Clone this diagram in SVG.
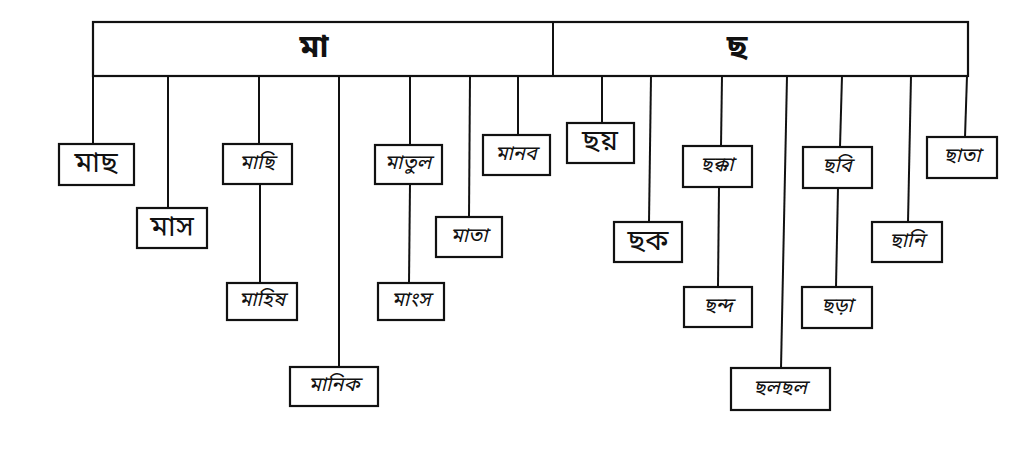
<svg xmlns="http://www.w3.org/2000/svg" width="1031" height="452" viewBox="0 0 1031 452">
<style>
.bx{fill:#fff;stroke:#111;stroke-width:2.2}
.ln{stroke:#111;stroke-width:2;fill:none}
.pt{font-family:"Noto Sans Bengali","Noto Sans","Noto Sans CJK SC",sans-serif;font-size:29px;font-weight:normal;fill:#111;text-anchor:middle;dominant-baseline:central}
.hw{font-family:"Noto Sans Bengali","Noto Sans","Noto Sans CJK SC",sans-serif;font-size:20px;font-style:italic;fill:#111;text-anchor:middle;dominant-baseline:central}
.hd{font-family:"Noto Sans Bengali","Noto Sans","Noto Sans CJK SC",sans-serif;font-size:32px;font-weight:bold;fill:#111;text-anchor:middle;dominant-baseline:central}
</style>
<rect width="1031" height="452" fill="#fff"/>
<g id="header">
<rect class="bx" x="93" y="22" width="875" height="54"/>
<line class="ln" x1="553" y1="22" x2="553" y2="76"/>
<text class="hd" x="314" y="49">মা</text>
<text class="hd" x="737" y="49">ছ</text>
</g>
<g id="connectors">
<line class="ln" x1="93" y1="76" x2="93" y2="144"/>
<line class="ln" x1="168" y1="76" x2="168" y2="208"/>
<line class="ln" x1="259" y1="76" x2="259" y2="144"/>
<line class="ln" x1="260" y1="184" x2="260" y2="283"/>
<line class="ln" x1="339" y1="76" x2="339" y2="367"/>
<line class="ln" x1="410" y1="76" x2="410" y2="145"/>
<line class="ln" x1="410" y1="184" x2="409" y2="283"/>
<line class="ln" x1="470" y1="76" x2="469" y2="217"/>
<line class="ln" x1="518" y1="76" x2="518" y2="135"/>
<line class="ln" x1="602" y1="76" x2="602" y2="123"/>
<line class="ln" x1="651" y1="76" x2="649" y2="222"/>
<line class="ln" x1="722" y1="76" x2="721" y2="146"/>
<line class="ln" x1="719" y1="187" x2="718" y2="287"/>
<line class="ln" x1="787" y1="76" x2="781" y2="368"/>
<line class="ln" x1="842" y1="76" x2="840" y2="147"/>
<line class="ln" x1="838" y1="188" x2="836" y2="287"/>
<line class="ln" x1="911" y1="76" x2="908" y2="222"/>
<line class="ln" x1="967" y1="76" x2="965" y2="137"/>
</g>
<g id="n-machh"><rect class="bx" x="59" y="144" width="75" height="41"/><text class="pt" x="96" y="164">মাছ</text></g>
<g id="n-mas"><rect class="bx" x="137" y="208" width="70" height="40"/><text class="pt" x="172" y="228">মাস</text></g>
<g id="n-machhi"><rect class="bx" x="223" y="144" width="69" height="40"/><text class="hw" x="257" y="164">মাছি</text></g>
<g id="n-mahish"><rect class="bx" x="227" y="283" width="70" height="37"/><text class="hw" x="262" y="301">মাহিষ</text></g>
<g id="n-manik"><rect class="bx" x="290" y="367" width="88" height="39"/><text class="hw" x="334" y="386">মানিক</text></g>
<g id="n-matul"><rect class="bx" x="375" y="145" width="67" height="39"/><text class="hw" x="408" y="164">মাতুল</text></g>
<g id="n-mangsho"><rect class="bx" x="378" y="283" width="66" height="37"/><text class="hw" x="411" y="301">মাংস</text></g>
<g id="n-mata"><rect class="bx" x="436" y="217" width="66" height="40"/><text class="hw" x="469" y="237">মাতা</text></g>
<g id="n-manob"><rect class="bx" x="483" y="135" width="67" height="40"/><text class="hw" x="516" y="155">মানব</text></g>
<g id="n-chhoy"><rect class="bx" x="567" y="123" width="67" height="40"/><text class="pt" x="600" y="142">ছয়</text></g>
<g id="n-chhok"><rect class="bx" x="614" y="222" width="68" height="40"/><text class="pt" x="648" y="242">ছক</text></g>
<g id="n-chhokka"><rect class="bx" x="683" y="146" width="69" height="41"/><text class="hw" x="717" y="166">ছক্কা</text></g>
<g id="n-chhondo"><rect class="bx" x="684" y="287" width="68" height="40"/><text class="hw" x="718" y="307">ছন্দ</text></g>
<g id="n-chholchhol"><rect class="bx" x="731" y="368" width="99" height="42"/><text class="hw" x="780" y="389">ছলছল</text></g>
<g id="n-chhobi"><rect class="bx" x="803" y="147" width="69" height="41"/><text class="hw" x="837" y="167">ছবি</text></g>
<g id="n-chhora"><rect class="bx" x="802" y="287" width="70" height="41"/><text class="hw" x="837" y="307">ছড়া</text></g>
<g id="n-chhani"><rect class="bx" x="872" y="222" width="70" height="40"/><text class="hw" x="907" y="242">ছানি</text></g>
<g id="n-chhata"><rect class="bx" x="927" y="137" width="70" height="41"/><text class="hw" x="962" y="157">ছাতা</text></g>
</svg>
